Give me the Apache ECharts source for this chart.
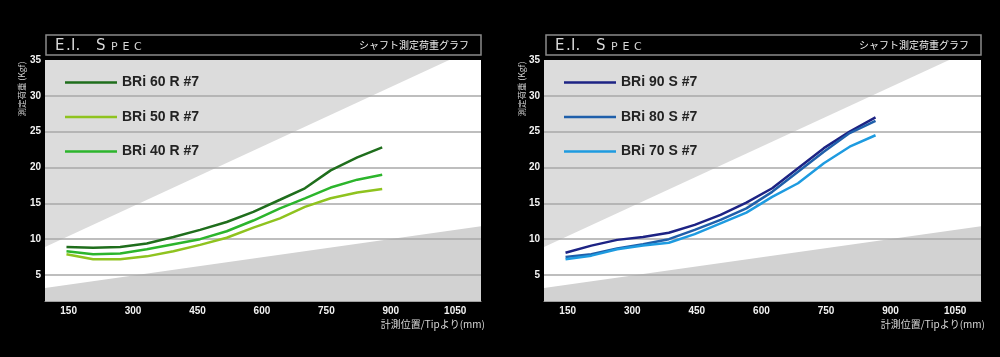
<!DOCTYPE html>
<html lang="ja">
<head>
    <meta charset="UTF-8">
    <title>E.I. Spec</title>
    <script src="https://cdn.jsdelivr.net/npm/echarts@6/dist/echarts.min.js"></script>
    <style>
        body { margin: 0; background: #000; }
    </style>
</head>
<body>
    <div id="main" style="width: 1000px; height: 357px"></div>
    <script>
        // 計測位置 (mm, Tipより)
        var leftPos = [145, 207, 270, 332, 394, 456, 518, 580, 642, 700, 760, 822, 880];
        var rightPos = [145, 205, 265, 325, 385, 445, 505, 565, 625, 685, 745, 805, 865];

        // 測定荷重 (Kgf)
        var r60 = [8.9, 8.8, 8.9, 9.4, 10.3, 11.3, 12.4, 13.8, 15.5, 17.1, 19.6, 21.4, 22.8];
        var r50 = [7.9, 7.2, 7.2, 7.6, 8.3, 9.2, 10.2, 11.6, 12.9, 14.5, 15.7, 16.5, 17.0];
        var r40 = [8.3, 7.9, 8.0, 8.6, 9.3, 10.0, 11.1, 12.6, 14.3, 15.7, 17.2, 18.3, 19.0];
        var s90 = [8.1, 9.1, 9.9, 10.3, 10.9, 12.0, 13.4, 15.1, 17.1, 19.9, 22.7, 25.0, 27.0];
        var s80 = [7.5, 7.9, 8.7, 9.3, 10.0, 11.3, 12.7, 14.3, 16.6, 19.4, 22.2, 24.8, 26.5];
        var s70 = [7.2, 7.7, 8.6, 9.1, 9.5, 10.7, 12.2, 13.7, 15.9, 17.8, 20.6, 22.9, 24.5];

        var leftNames = ['BRi 60 R #7', 'BRi 50 R #7', 'BRi 40 R #7'];
        var rightNames = ['BRi 90 S #7', 'BRi 80 S #7', 'BRi 70 S #7'];

        var xTicks = [150, 300, 450, 600, 750, 900, 1050];
        var yTicks = [5, 10, 15, 20, 25, 30, 35];
        var yLines = [5, 10, 15, 20, 25, 30];

        // 背景の斜めの帯
        var bandTop = [[95, 8.9], [1036, 35]];
        var bandBottom = [[95, 3.2], [1110, 11.8]];

        function pairs(xs, ys) {
            var res = [];
            for (var i = 0; i < xs.length; i++) {
                res.push([xs[i], ys[i]]);
            }
            return res;
        }

        function makeAxes(idx) {
            return {
                x: {
                    type: 'value', gridIndex: idx, min: 95, max: 1110,
                    axisLine: { show: true, lineStyle: { color: '#a0a0a0', width: 1 } },
                    axisTick: { show: false },
                    splitLine: { show: false },
                    axisLabel: {
                        customValues: xTicks, margin: 5,
                        formatter: function (v) { return String(v); },
                        color: '#f2f2f2', fontSize: 10, fontWeight: 'bold',
                        fontFamily: 'Liberation Sans'
                    }
                },
                y: {
                    type: 'value', gridIndex: idx, min: 1.37, max: 35,
                    axisLine: { show: false },
                    axisTick: { show: false, customValues: yLines },
                    splitLine: { show: true, lineStyle: { color: '#a8a8a8', width: 1.5 } },
                    axisLabel: {
                        customValues: yTicks, margin: 4,
                        color: '#f2f2f2', fontSize: 10, fontWeight: 'bold',
                        fontFamily: 'Liberation Sans'
                    },
                    z: 2
                }
            };
        }

        function band(idx, data, origin, color) {
            return {
                type: 'line', xAxisIndex: idx, yAxisIndex: idx,
                data: data, symbol: 'none', silent: true, z: 1,
                lineStyle: { opacity: 0 },
                areaStyle: { color: color, origin: origin, opacity: 1 }
            };
        }

        function curve(idx, name, xs, ys, color) {
            return {
                type: 'line', name: name, xAxisIndex: idx, yAxisIndex: idx,
                data: pairs(xs, ys), symbol: 'none', z: 3,
                lineStyle: { color: color, width: 2.5 },
                itemStyle: { color: color }
            };
        }

        // E.I. SPEC の見出し (字間が広いので一文字ずつ置く)
        function header(x0) {
            var els = [{
                type: 'rect', shape: { x: x0, y: 35, width: 435, height: 20 },
                style: { fill: '#000', stroke: '#8a8a8a', lineWidth: 1.5 }
            }];
            var letters = [['E', 9, 15, 46.4], ['.', 20, 15, 46.4], ['I', 25, 15, 46.4], ['.', 29.5, 15, 46.4],
                ['S', 50, 15, 46.4], ['P', 65, 11, 47.6], ['E', 76.5, 11, 47.6], ['C', 88, 11, 47.6]];
            letters.forEach(function (l) {
                els.push({
                    type: 'text', x: x0 + l[1], y: l[3],
                    style: {
                        text: l[0], fill: '#d8d8d8', fontSize: l[2],
                        fontFamily: 'DejaVu Sans',
                        align: 'left', verticalAlign: 'middle'
                    }
                });
            });
            els.push({
                type: 'text', x: x0 + 423, y: 45,
                style: {
                    text: 'シャフト測定荷重グラフ', fill: '#f0f0f0', fontSize: 10,
                    fontFamily: 'Noto Sans CJK JP', align: 'right', verticalAlign: 'middle'
                }
            });
            els.push({
                type: 'text', x: x0 - 24, y: 89, rotation: Math.PI / 2,
                style: {
                    text: '測定荷重 (Kgf)', fill: '#d0d0d0', fontSize: 8.5,
                    fontFamily: 'Noto Sans CJK JP', align: 'center', verticalAlign: 'middle'
                }
            });
            els.push({
                type: 'text', x: x0 + 439, y: 324,
                style: {
                    text: '計測位置/Tipより(mm)', fill: '#d8d8d8', fontSize: 10,
                    fontFamily: 'Noto Sans CJK JP', align: 'right', verticalAlign: 'middle'
                }
            });
            return els;
        }

        function legendAt(left, names) {
            return {
                data: names, orient: 'vertical', left: left, top: 75.5, padding: 0,
                icon: 'rect', itemWidth: 52, itemHeight: 2.5, itemGap: 20.5,
                textStyle: { color: '#222', fontSize: 14, fontWeight: 'bold', fontFamily: 'Liberation Sans' }
            };
        }

        var ax0 = makeAxes(0);
        var ax1 = makeAxes(1);

        echarts.init(document.getElementById('main')).setOption({
            backgroundColor: '#000',
            animation: false,
            grid: [
                { left: 45, top: 60, width: 436, height: 241, show: true, backgroundColor: '#fff', borderWidth: 0 },
                { left: 544, top: 60, width: 437, height: 241, show: true, backgroundColor: '#fff', borderWidth: 0 }
            ],
            xAxis: [ax0.x, ax1.x],
            yAxis: [ax0.y, ax1.y],
            legend: [legendAt(65, leftNames), legendAt(564, rightNames)],
            graphic: header(46).concat(header(546)),
            series: [
                band(0, bandTop, 'end', '#dcdcdc'),
                band(0, bandBottom, 'start', '#d2d2d2'),
                band(1, bandTop, 'end', '#dcdcdc'),
                band(1, bandBottom, 'start', '#d2d2d2'),
                curve(0, leftNames[0], leftPos, r60, '#1f6e1c'),
                curve(0, leftNames[1], leftPos, r50, '#8fc31f'),
                curve(0, leftNames[2], leftPos, r40, '#2cb52c'),
                curve(1, rightNames[0], rightPos, s90, '#1d2384'),
                curve(1, rightNames[1], rightPos, s80, '#1f5faa'),
                curve(1, rightNames[2], rightPos, s70, '#1e9be0')
            ]
        });
    </script>
</body>
</html>
